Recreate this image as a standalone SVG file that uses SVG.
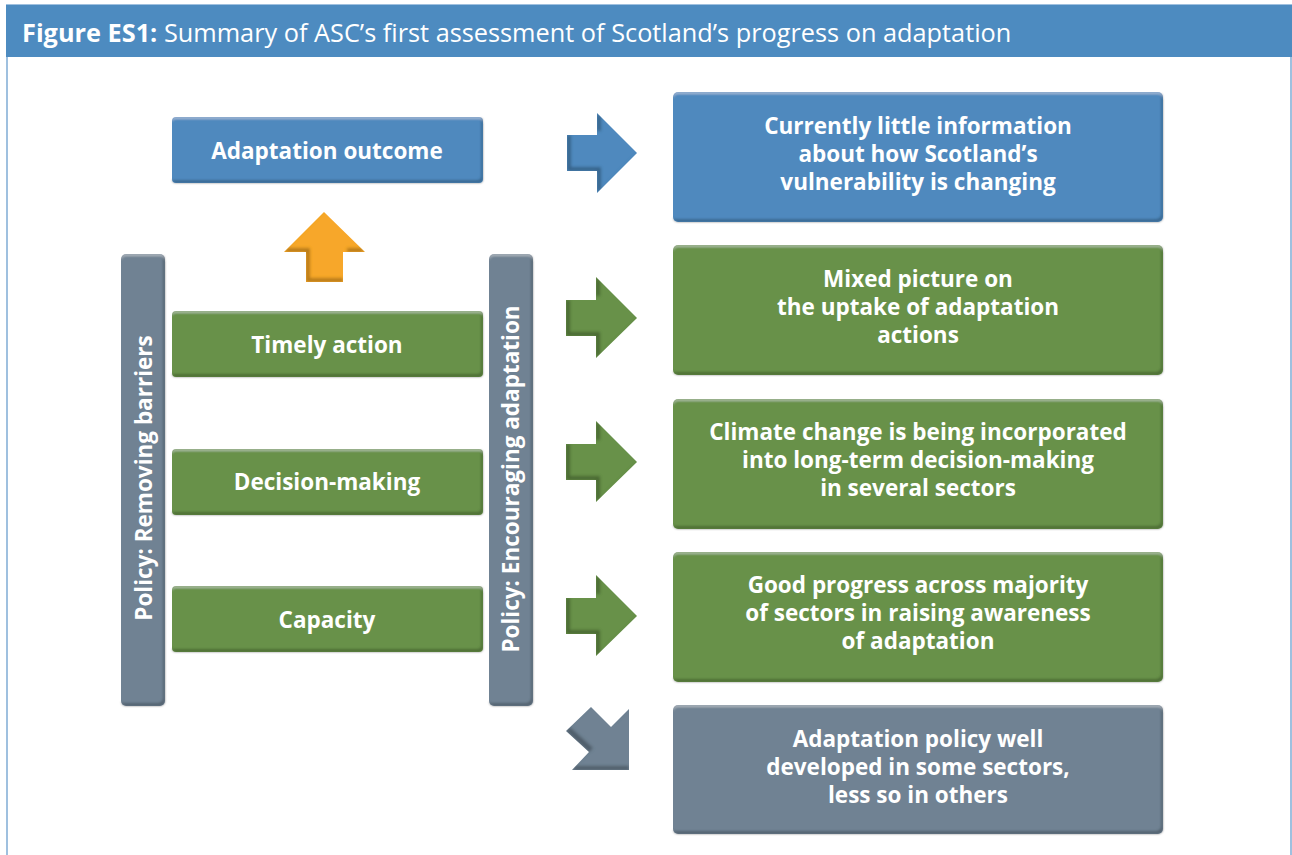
<svg xmlns="http://www.w3.org/2000/svg" width="1292" height="855" viewBox="0 0 1292 855">
<style>
.t{font-family:"Open Sans","Liberation Sans",sans-serif;font-weight:700;font-size:22.5px;fill:#ffffff;text-anchor:middle}
.title{font-family:"Open Sans","Liberation Sans",sans-serif;font-size:25.3px;fill:#ffffff}
</style>
<defs>
<filter id="bev" x="-5%" y="-5%" width="110%" height="110%">
<feOffset in="SourceAlpha" dx="-2" dy="-3" result="o"/>
<feComposite in="SourceAlpha" in2="o" operator="out" result="e"/>
<feGaussianBlur in="e" stdDeviation="0.8" result="eb"/>
<feFlood flood-color="#000" flood-opacity="0.45"/>
<feComposite in2="eb" operator="in" result="sh"/>
<feOffset in="SourceAlpha" dx="0" dy="2" result="o2"/>
<feComposite in="SourceAlpha" in2="o2" operator="out" result="e2"/>
<feGaussianBlur in="e2" stdDeviation="0.8" result="eb2"/>
<feFlood flood-color="#fff" flood-opacity="0.35"/>
<feComposite in2="eb2" operator="in" result="hl"/>
<feMerge><feMergeNode in="SourceGraphic"/><feMergeNode in="sh"/><feMergeNode in="hl"/></feMerge>
</filter>
<filter id="abev" x="-10%" y="-10%" width="120%" height="120%">
<feOffset in="SourceAlpha" dx="4" dy="-4" result="o"/>
<feComposite in="SourceAlpha" in2="o" operator="out" result="e"/>
<feGaussianBlur in="e" stdDeviation="1.5" result="eb"/>
<feFlood flood-color="#000" flood-opacity="0.5"/>
<feComposite in2="eb" operator="in" result="sh1"/>
<feComposite in="sh1" in2="SourceAlpha" operator="in" result="sh"/>
<feMerge><feMergeNode in="SourceGraphic"/><feMergeNode in="sh"/></feMerge>
</filter>
</defs>
<rect x="0" y="0" width="1292" height="855" fill="#ffffff"/>
<rect x="7" y="5" width="1284" height="870" fill="none" stroke="#9fc0df" stroke-width="2"/>
<g id="header">
<rect x="6" y="5" width="1286" height="52" fill="#4d8bc0"/>
<text class="title" x="22" y="42"><tspan font-weight="700">Figure ES1:</tspan> Summary of ASC’s first assessment of Scotland’s progress on adaptation</text>
</g>
<g id="bar-removing">
<rect x="121" y="254" width="44" height="452" rx="5" fill="#6f8293" filter="url(#bev)"/>
<text class="t" transform="translate(152,478) rotate(-90)">Policy: Removing barriers</text>
</g>
<g id="bar-encouraging">
<rect x="489" y="254" width="44" height="452" rx="5" fill="#6f8293" filter="url(#bev)"/>
<text class="t" transform="translate(519,479) rotate(-90)">Policy: Encouraging adaptation</text>
</g>
<g id="n-outcome">
<rect x="172" y="117" width="311" height="66" rx="4" fill="#4f89be" filter="url(#bev)"/>
<text class="t" x="327" y="159">Adaptation outcome</text>
</g>
<g id="n-timely">
<rect x="172" y="311" width="311" height="66" rx="4" fill="#67914a" filter="url(#bev)"/>
<text class="t" x="327" y="353">Timely action</text>
</g>
<g id="n-decision">
<rect x="172" y="449" width="311" height="66" rx="4" fill="#67914a" filter="url(#bev)"/>
<text class="t" x="327" y="490">Decision-making</text>
</g>
<g id="n-capacity">
<rect x="172" y="586" width="311" height="66" rx="4" fill="#67914a" filter="url(#bev)"/>
<text class="t" x="327" y="628">Capacity</text>
</g>
<g id="r-vulnerability">
<rect x="673" y="92" width="490" height="130" rx="5" fill="#4f89be" filter="url(#bev)"/>
<text class="t" x="918" y="134">Currently little information</text>
<text class="t" x="918" y="162">about how Scotland’s</text>
<text class="t" x="918" y="190">vulnerability is changing</text>
</g>
<g id="r-uptake">
<rect x="673" y="245" width="490" height="130" rx="5" fill="#67914a" filter="url(#bev)"/>
<text class="t" x="918" y="287">Mixed picture on</text>
<text class="t" x="918" y="315">the uptake of adaptation</text>
<text class="t" x="918" y="343">actions</text>
</g>
<g id="r-decision">
<rect x="673" y="399" width="490" height="130" rx="5" fill="#67914a" filter="url(#bev)"/>
<text class="t" x="918" y="440">Climate change is being incorporated</text>
<text class="t" x="918" y="468">into long-term decision-making</text>
<text class="t" x="918" y="496">in several sectors</text>
</g>
<g id="r-awareness">
<rect x="673" y="552" width="490" height="130" rx="5" fill="#67914a" filter="url(#bev)"/>
<text class="t" x="918" y="593">Good progress across majority</text>
<text class="t" x="918" y="621">of sectors in raising awareness</text>
<text class="t" x="918" y="649">of adaptation</text>
</g>
<g id="r-policy">
<rect x="673" y="705" width="490" height="129" rx="5" fill="#6f8293" filter="url(#bev)"/>
<text class="t" x="918" y="747">Adaptation policy well</text>
<text class="t" x="918" y="775">developed in some sectors,</text>
<text class="t" x="918" y="803">less so in others</text>
</g>
<g id="connectors">
<polygon points="324,212 365,252 343,252 343,282 306,282 306,252 284,252" fill="#f7a72a" filter="url(#abev)"/>
<polygon points="567,135 597,135 597,113 637,153 597,193 597,171 567,171" fill="#4f89be" filter="url(#abev)"/>
<polygon points="566,300 596,300 596,277 637,318 596,358 596,336 566,336" fill="#67914a" filter="url(#abev)"/>
<polygon points="566,444 596,444 596,421 637,462 596,502 596,480 566,480" fill="#67914a" filter="url(#abev)"/>
<polygon points="566,598 596,598 596,575 637,616 596,656 596,634 566,634" fill="#67914a" filter="url(#abev)"/>
<polygon points="566,731 591,707 611,727 629,709 629,770 572,770 589,752" fill="#6f8293" filter="url(#abev)"/>
</g>
</svg>
